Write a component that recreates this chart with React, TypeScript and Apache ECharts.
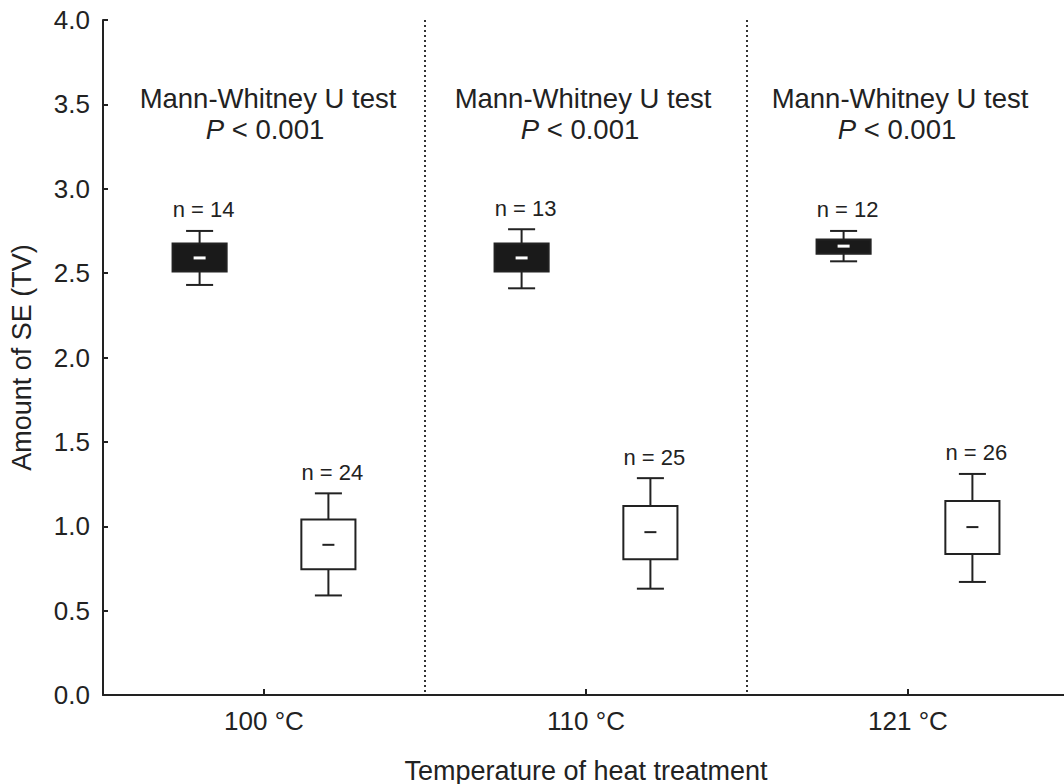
import React, { useEffect, useRef } from "react";
import * as echarts from "echarts";

const categories = ["100 °C", "110 °C", "121 °C"];
const yTicks = [0, 0.5, 1, 1.5, 2, 2.5, 3, 3.5, 4];
// [low whisker, Q1, median, Q3, high whisker]
const groupA = [
  [2.43, 2.51, 2.59, 2.675, 2.75],
  [2.41, 2.51, 2.59, 2.675, 2.76],
  [2.57, 2.615, 2.66, 2.7, 2.75],
];
const groupAN = [14, 13, 12];
const groupB = [
  [0.59, 0.745, 0.89, 1.04, 1.195],
  [0.63, 0.805, 0.965, 1.12, 1.285],
  [0.67, 0.835, 0.995, 1.15, 1.31],
];
const groupBN = [24, 25, 26];
const testLines = ["Mann-Whitney U test", "{i|P}{n| < 0.001}"];

const FONT = "'Liberation Sans', Arial, Helvetica, sans-serif";
const INK = "#222";

function makeRender(offsetFrac: number, filled: boolean) {
  return (params: any, api: any) => {
    const idx = api.value(0);
    const band = api.size([1, 0])[0];
    const cx = api.coord([idx, 0])[0] + offsetFrac * band;
    const bw = band * 0.168;
    const cw = bw * 0.5;
    const yLo = api.coord([idx, api.value(1)])[1];
    const yQ1 = api.coord([idx, api.value(2)])[1];
    const yMed = api.coord([idx, api.value(3)])[1];
    const yQ3 = api.coord([idx, api.value(4)])[1];
    const yHi = api.coord([idx, api.value(5)])[1];
    const n = api.value(6);
    const ls = { stroke: INK, lineWidth: 2 };
    return {
      type: "group",
      children: [
        { type: "line", shape: { x1: cx, y1: yHi, x2: cx, y2: yQ3 }, style: ls },
        { type: "line", shape: { x1: cx, y1: yQ1, x2: cx, y2: yLo }, style: ls },
        { type: "line", shape: { x1: cx - cw / 2, y1: yHi, x2: cx + cw / 2, y2: yHi }, style: ls },
        { type: "line", shape: { x1: cx - cw / 2, y1: yLo, x2: cx + cw / 2, y2: yLo }, style: ls },
        {
          type: "rect",
          shape: { x: cx - bw / 2, y: yQ3, width: bw, height: yQ1 - yQ3 },
          style: { fill: filled ? "#1a1a1a" : "#fff", stroke: INK, lineWidth: 2 },
        },
        {
          type: "line",
          shape: { x1: cx - 6, y1: yMed, x2: cx + 6, y2: yMed },
          style: { stroke: filled ? "#fff" : INK, lineWidth: filled ? 3 : 2 },
        },
        {
          type: "text",
          style: {
            text: "n = " + n,
            x: cx + 4,
            y: yHi - 21,
            align: "center",
            verticalAlign: "middle",
            fill: INK,
            fontSize: 22,
            fontFamily: FONT,
          },
        },
      ],
    };
  };
}

export default function App() {
  const ref = useRef<HTMLDivElement>(null);
  useEffect(() => {
    if (!ref.current) return;
    const chart = echarts.init(ref.current, undefined, { renderer: "svg" });
    const dataA = groupA.map((d, i) => [i, ...d, groupAN[i]]);
    const dataB = groupB.map((d, i) => [i, ...d, groupBN[i]]);
    const xs = [268, 583, 900];
    const graphics: any[] = [];
    xs.forEach((x) => {
      graphics.push({
        type: "text",
        x: x,
        y: 98,
        style: {
          text: testLines[0],
          align: "center",
          verticalAlign: "middle",
          fill: INK,
          fontSize: 27.5,
          fontFamily: FONT,
        },
      });
      graphics.push({
        type: "text",
        x: x - 3,
        y: 129,
        style: {
          text: testLines[1],
          align: "center",
          verticalAlign: "middle",
          fill: INK,
          fontSize: 27.5,
          fontFamily: FONT,
          rich: {
            i: { fontStyle: "italic", fontSize: 27.5, fontFamily: FONT, fill: INK },
            n: { fontSize: 27.5, fontFamily: FONT, fill: INK },
          },
        },
      });
    });
    chart.setOption({
      animation: false,
      backgroundColor: "#fff",
      grid: { left: 103, top: 20, width: 966, bottom: 89, outerBoundsMode: "none" },
      xAxis: {
        type: "category",
        data: categories,
        boundaryGap: true,
        name: "Temperature of heat treatment",
        nameLocation: "middle",
        nameGap: 62,
        nameTextStyle: { fontSize: 27, fontFamily: FONT, color: INK },
        axisLine: { lineStyle: { color: INK, width: 2 } },
        axisTick: { show: true, alignWithLabel: true, inside: true, length: 6, lineStyle: { color: INK, width: 2 } },
        axisLabel: { fontSize: 26, fontFamily: FONT, color: INK, margin: 13 },
        splitLine: { show: true, lineStyle: { color: "#333", width: 2, type: [2, 3] } },
      },
      yAxis: {
        type: "value",
        min: yTicks[0],
        max: yTicks[yTicks.length - 1],
        interval: 0.5,
        name: "Amount of SE (TV)",
        nameLocation: "middle",
        nameGap: 68,
        nameTextStyle: { fontSize: 27, fontFamily: FONT, color: INK },
        axisLine: { show: true, lineStyle: { color: INK, width: 2 } },
        axisTick: { show: true, inside: true, length: 5, lineStyle: { color: INK, width: 2 } },
        axisLabel: { fontSize: 26, fontFamily: FONT, color: INK, margin: 13, formatter: (v: number) => v.toFixed(1) },
        splitLine: { show: false },
      },
      series: [
        {
          type: "custom",
          name: "A",
          renderItem: makeRender(-0.2, true),
          data: dataA,
          encode: { x: 0, y: [1, 2, 3, 4, 5] },
          clip: false,
        },
        {
          type: "custom",
          name: "B",
          renderItem: makeRender(0.2, false),
          data: dataB,
          encode: { x: 0, y: [1, 2, 3, 4, 5] },
          clip: false,
        },
      ],
      graphic: graphics,
    });
    return () => chart.dispose();
  }, []);
  return <div ref={ref} style={{ width: 1064, height: 784, position: "absolute", left: 0, top: 0 }} />;
}
